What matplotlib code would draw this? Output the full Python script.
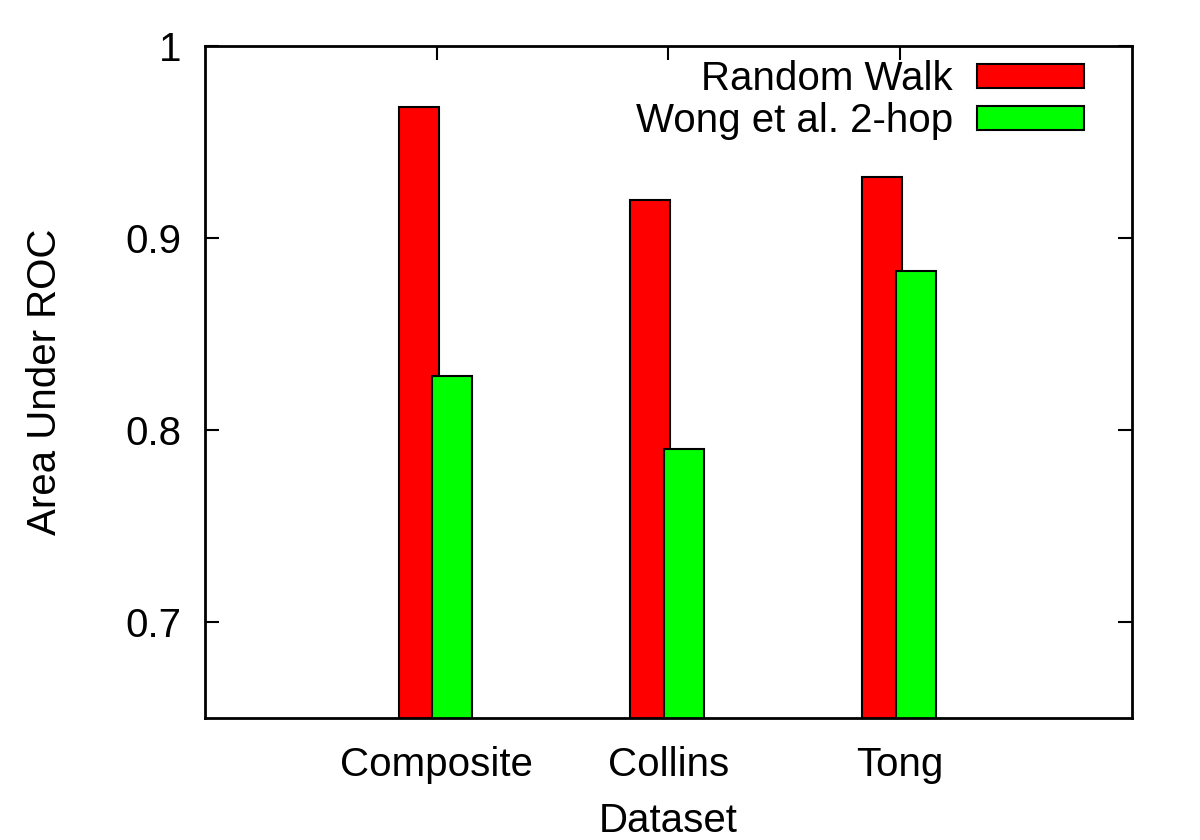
import numpy as np
import matplotlib
matplotlib.use("Agg")
import matplotlib.pyplot as plt

plt.rcParams['font.family'] = ['Liberation Sans', 'DejaVu Sans']

datasets = ["Composite", "Collins", "Tong"]
random_walk = [0.968, 0.920, 0.932]
wong_2hop = [0.828, 0.790, 0.883]
yticks = [0.7, 0.8, 0.9, 1.0]
ytick_labels = ["0.7", "0.8", "0.9", "1"]

fig = plt.figure(figsize=(12, 8.4), dpi=100)
ax = fig.add_axes([0.1708, 0.1452, 0.7725, 0.8])

x = np.arange(1, len(datasets) + 1)
w = 0.172
ax.bar(x - 0.078, random_walk, w, color='#ff0000', edgecolor='black', linewidth=1.5,
       label="Random Walk", zorder=2)
ax.bar(x + 0.067, wong_2hop, w, color='#00ff00', edgecolor='black', linewidth=1.5,
       label="Wong et al. 2-hop", zorder=3)

ax.set_xlim(0, 4)
ax.set_ylim(0.65, 1.0)
ax.set_xticks(x)
ax.set_xticklabels(datasets)
ax.set_yticks(yticks)
ax.set_yticklabels(ytick_labels)

fs = 29
ax.tick_params(direction='in', length=10, width=1.5, labelsize=fs,
               top=True, right=True)
ax.tick_params(axis='y', pad=17)
ax.tick_params(axis='x', pad=20)
for s in ax.spines.values():
    s.set_linewidth(2)
    s.set_zorder(5)

ax.set_xlabel("Dataset", fontsize=fs, labelpad=13)
ax.set_ylabel("Area Under ROC", fontsize=fs, labelpad=44)

ax.legend(loc='upper right', bbox_to_anchor=(0.948, 0.979), frameon=False, fontsize=fs,
          markerfirst=False, handlelength=2.65, handleheight=0.55, labelspacing=0.1,
          handletextpad=0.6, borderaxespad=0, borderpad=0)

fig.savefig("out.png", dpi=100)
